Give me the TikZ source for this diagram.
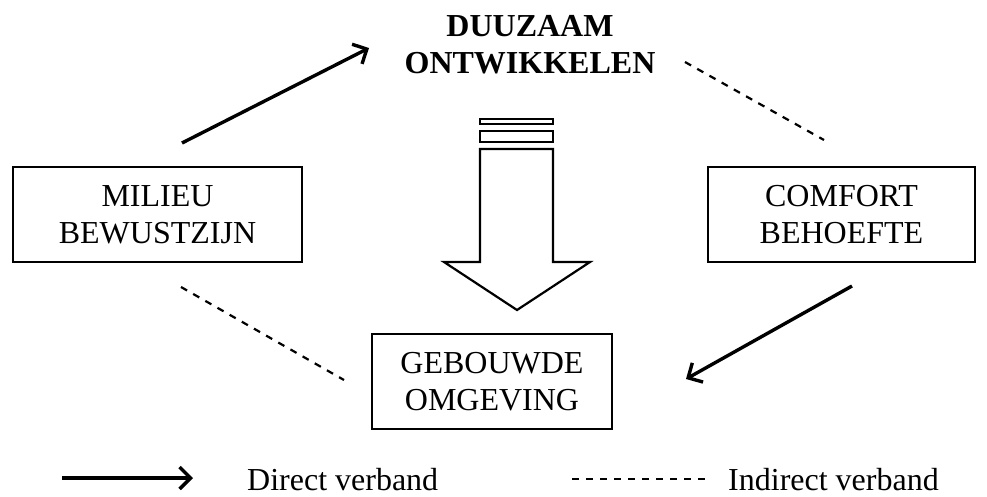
\documentclass[tikz,border=0pt]{standalone}
\usepackage{fontspec}
\setmainfont{Liberation Serif}
\usetikzlibrary{arrows.meta}
\tikzset{
  x=1pt, y=-1pt,
  every node/.style={font=\fontsize{32}{37}\selectfont, inner sep=0pt, align=center},
  boxed/.style={draw, line width=2pt},
  direct/.style={line width=3.4pt, -{Straight Barb[length=11pt,width=22pt,line width=3.4pt]}},
  indirect/.style={line width=2.2pt, dash pattern=on 7pt off 7pt},
  hollow/.style={draw, line width=2.2pt, fill=white, line join=miter}
}
\begin{document}
\begin{tikzpicture}
\useasboundingbox (0,0) rectangle (987,496);

% boxes
\draw[boxed] (13,167) rectangle (302,262);
\node (milieu) at (157.5,214.5) {MILIEU\\BEWUSTZIJN};
\draw[boxed] (708,167) rectangle (975,262);
\node (comfort) at (841.5,214.5) {COMFORT\\BEHOEFTE};
\draw[boxed] (372,334) rectangle (612,429);
\node (gebouwd) at (492,381.5) {GEBOUWDE\\OMGEVING};

% title
\node[font=\fontsize{32}{37}\selectfont\bfseries] (duurzaam) at (530,45) {DUUZAAM\\ONTWIKKELEN};

% hollow block arrow
\draw[hollow] (480,119) rectangle (553,124);
\draw[hollow] (480,131) rectangle (553,142);
\draw[hollow] (480,149) -- (553,149) -- (553,262) -- (590,262) -- (517,310)
  -- (444,262) -- (480,262) -- cycle;

% connectors
\coordinate (a1) at (182,143);
\coordinate (a2) at (369,48);
\coordinate (b1) at (852,286);
\coordinate (b2) at (686,379);
\coordinate (c1) at (685,62);
\coordinate (c2) at (824,140);
\coordinate (d1) at (181,287);
\coordinate (d2) at (344,380);
\draw[direct] (a1) -- (a2);
\draw[direct] (b1) -- (b2);
\draw[indirect] (c1) -- (c2);
\draw[indirect] (d1) -- (d2);

% legend
\coordinate (l1) at (62,478);
\coordinate (l2) at (193,478);
\coordinate (l3) at (572,479);
\coordinate (l4) at (705,479);
\draw[direct] (l1) -- (l2);
\draw[indirect] (l3) -- (l4);
\node[anchor=base west] (direct) at (247,490) {Direct verband};
\node[anchor=base west] (indirect) at (728,490) {Indirect verband};
\end{tikzpicture}
\end{document}
